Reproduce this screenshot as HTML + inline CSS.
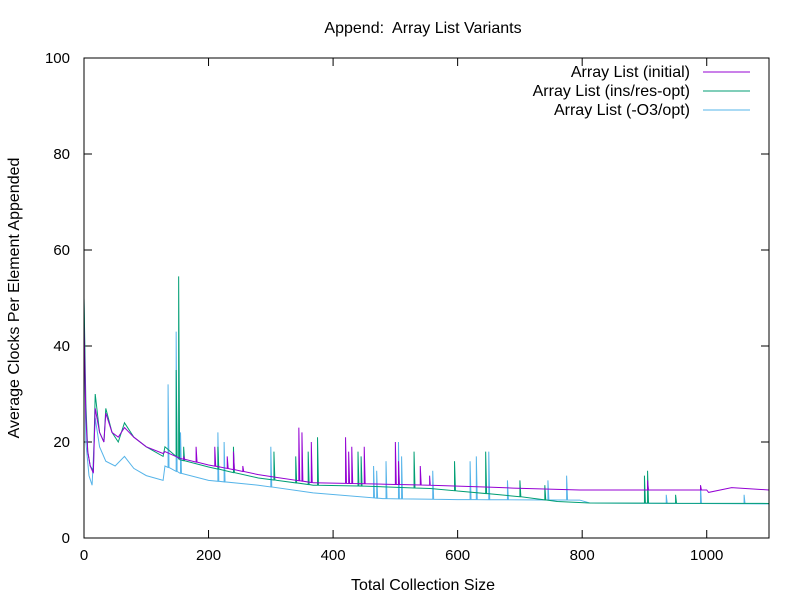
<!DOCTYPE html>
<html><head><meta charset="utf-8"><style>
body{margin:0;background:#fff}
svg{font-family:"Liberation Sans",sans-serif;font-size:16px}
.tick{font-size:15px}
</style></head><body>
<svg id="chart" width="800" height="600" xmlns="http://www.w3.org/2000/svg">
<rect width="800" height="600" fill="#fff"/>
<text x="423" y="33" text-anchor="middle" style="white-space:pre">Append:&#160; Array List Variants</text>
<text x="423" y="590" text-anchor="middle">Total Collection Size</text>
<text transform="translate(19,298) rotate(-90)" text-anchor="middle">Average Clocks Per Element Appended</text>
<g id="axes"></g>
<g id="series"></g>
<rect x="84" y="58" width="685" height="480" fill="none" stroke="#000" stroke-width="1"/>
<g id="legend"></g>
</svg>
<script>
const xTicks=[0,200,400,600,800,1000];
const yTicks=[0,20,40,60,80,100];
const seriesNames=["Array List (initial)","Array List (ins/res-opt)","Array List (-O3/opt)"];
const seriesColors=["#9400d3","#009e73","#56b4e9"];
const baseInitial=[[0,45],[3,25],[6,18],[10,15],[15,13.5],[18,27],[25,22],[32,20],[35,26],[45,22],[55,21],[65,23],[80,21],[100,19],[127,17.6],[130,18],[154,16.6],[200,15.2],[234,14.4],[280,13.2],[310,12.6],[368,11.5],[450,11.3],[556,11],[650,10.6],[689,10.4],[796,10],[1000,10],[1003,9.5],[1040,10.5],[1100,10]];
const baseInsRes=[[0,50],[3,28],[6,18],[10,15],[15,14],[18,30],[25,22],[32,20],[35,27],[45,22],[55,20],[65,24],[80,21],[100,19],[127,17],[130,19],[154,16.3],[200,14.8],[234,13.8],[280,12.5],[310,12],[368,11],[450,10.8],[556,10.3],[600,9.8],[700,8.6],[760,7.6],[812,7.3],[1100,7.2]];
const baseO3=[[0,50],[3,20],[8,13],[13,11],[18,25],[25,19],[35,16],[50,15],[65,17],[80,14.5],[100,13],[127,12],[130,15],[154,13.5],[200,12],[280,11],[368,9.4],[480,8.2],[600,8],[796,7.9],[812,7.3],[1100,7.1]];
const spikesInitial=[[160,17],[180,19],[210,19],[230,17],[240,18],[255,15],[345,23],[350,22],[365,20],[420,21],[425,18],[430,19],[450,19],[500,20],[505,16],[540,15],[555,13],[905,12],[990,11]];
const spikesInsRes=[[148,35],[152,54.5],[160,19],[215,19],[240,19],[305,18],[340,17],[360,18],[375,21],[440,18],[445,17],[530,18],[595,16],[645,18],[700,12],[740,11],[900,13],[905,14],[950,9]];
const spikesO3=[[135,32],[148,43],[155,22],[215,22],[225,20],[300,19],[465,15],[470,14],[485,16],[505,20],[510,17],[560,14],[620,16],[630,17],[650,18],[680,12],[745,12],[775,13],[935,9],[990,11],[1060,9]];
const baseList=[baseInitial,baseInsRes,baseO3];
const spikeList=[spikesInitial,spikesInsRes,spikesO3];
const X0=84,X1=769,Y0=538,Y1=58;
function xs(v){return X0+(v/1100)*(X1-X0);}
function ys(v){return Y0-(v/100)*(Y0-Y1);}
const NS="http://www.w3.org/2000/svg";
const axes=document.getElementById('axes');
function mk(tag,attrs,parent){const e=document.createElementNS(NS,tag);for(const k in attrs)e.setAttribute(k,attrs[k]);parent.appendChild(e);return e;}
xTicks.forEach(t=>{
  const x=xs(t);
  const l=mk('path',{d:`M${x},${Y0}v-8M${x},${Y1}v8`,stroke:'#000'},axes);
  
  
  const tx=mk('text',{x:x,y:Y0+22,'text-anchor':'middle','class':'tick'},axes);tx.textContent=t;
  
  
});
yTicks.forEach(t=>{
  const y=ys(t);
  const l=mk('path',{d:`M${X0},${y}h8M${X1},${y}h-8`,stroke:'#000'},axes);
  
  
  const tx=mk('text',{x:X0-14,y:y+5,'text-anchor':'end','class':'tick'},axes);tx.textContent=t;
  
  
});
function interp(base,x){for(let i=1;i<base.length;i++){if(x<=base[i][0]){const a=base[i-1],b=base[i];return a[1]+(b[1]-a[1])*(x-a[0])/(b[0]-a[0]);}}return base[base.length-1][1];}
const sg=document.getElementById('series');
[2,1,0].forEach(i=>{
  const base=baseList[i],sp=spikeList[i];
  let pts=base.map(p=>[p[0],p[1]]);
  sp.forEach(s=>{const b=interp(base,s[0]);pts.push([s[0]-0.01,b],[s[0],s[1]],[s[0]+1.5,b]);});
  pts.sort((a,b)=>a[0]-b[0]);
  let d='';pts.forEach((p,j)=>{d+=(j?'L':'M')+xs(p[0]).toFixed(2)+','+ys(p[1]).toFixed(2);});
  const path=mk('path',{d:d,fill:'none',stroke:seriesColors[i],'stroke-width':1},sg);
  
  
});
const lg=document.getElementById('legend');
seriesNames.forEach((n,i)=>{
  const y=72+i*19;
  const t=mk('text',{x:690,y:y+5,'text-anchor':'end'},lg);t.textContent=n;
  
  
  const l=mk('line',{x1:703,x2:750,y1:y,y2:y,stroke:seriesColors[i]},lg);
  
  
});
</script>
</body></html>
